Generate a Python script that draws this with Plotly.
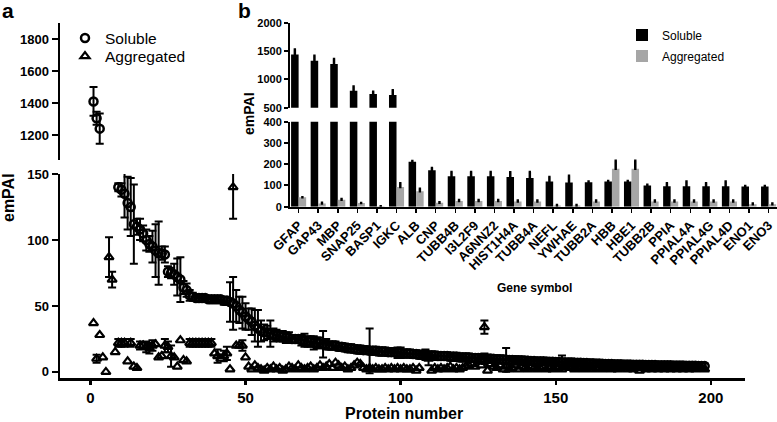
import plotly.graph_objects as go

W, H = 777, 422

# ---------------- Panel a data (protein number vs emPAI) ----------------
soluble = [
    1410, 1305, 1240, 800, 740, 725, 212, 172, 140, 138,
    135, 128, 125, 112, 110, 108, 105, 100, 97, 95,
    92, 90, 90, 89, 76, 75, 74, 72, 70, 64,
    62, 58, 57, 56, 56, 56, 56, 55, 55, 55,
    55, 55, 54, 54, 53, 52, 50, 47, 45, 42,
    40, 38, 35, 33, 31, 30, 30, 29, 28, 28,
    27, 27, 26, 26, 25, 25, 25, 24, 24, 23,
    23, 22, 22, 22, 21, 21, 20, 20, 20, 19,
    19, 18.5, 18, 18, 17.5, 17, 17, 16.5, 16.5, 16,
    16, 16, 15.5, 15.5, 15.5, 15, 15, 15, 14.5, 14.5,
    14, 14, 14, 13.5, 13.5, 13, 13, 13, 12.5, 12.5,
    12.5, 12, 12, 12, 12, 11.5, 11.5, 11.5, 11, 11,
    11, 11, 10.5, 10.5, 10.5, 10, 10, 10, 10, 9.8,
    9.6, 9.5, 9.4, 9.2, 9, 9, 8.8, 8.7, 8.6, 8.5,
    8.4, 8.3, 8.2, 8.1, 8, 8, 7.9, 7.8, 7.7, 7.6,
    7.5, 7.4, 7.3, 7.2, 7.1, 7, 7, 6.9, 6.8, 6.7,
    6.6, 6.5, 6.4, 6.3, 6.2, 6.1, 6, 6, 5.9, 5.8,
    5.8, 5.7, 5.6, 5.6, 5.5, 5.5, 5.4, 5.4, 5.3, 5.3,
    5.2, 5.2, 5.1, 5.1, 5, 5, 5, 4.9, 4.9, 4.8,
    4.8, 4.7, 4.7, 4.6, 4.6, 4.5, 4.5, 4.4,
]
soluble_err = [
    90, 40, 95, 0, 0, 0, 0, 0, 3, 5,
    18, 20, 22, 30, 6, 8, 6, 8, 6, 12,
    20, 24, 5, 6, 4, 4, 8, 14, 17, 5,
    5, 4, 3, 2, 2, 2, 2, 2, 2, 2,
    2, 2, 3, 3, 15, 20, 12, 10, 12, 10,
    8, 10, 12, 14, 8, 6, 5, 10, 5, 4,
    4, 4, 4, 4, 3, 3, 3, 4, 5, 4,
    4, 5, 4, 4, 10, 4, 3, 3, 3, 3,
    3, 3, 3, 3, 3, 3, 3, 3, 3, 17,
    3, 3, 3, 3, 3, 3, 3, 3, 4, 4,
    3, 3, 3, 3, 3, 3, 3, 3, 3, 3,
    3, 3, 3, 3, 3, 3, 3, 3, 3, 3,
    3, 3, 3, 3, 3, 3, 4, 3, 3, 3,
    3, 3, 3, 9, 3, 3, 3, 3, 3, 3,
    2, 2, 2, 2, 2, 2, 2, 2, 2, 2,
    2, 5, 2, 2, 3, 2, 2, 2, 2, 2,
    2, 2, 2, 2, 2, 2, 2, 2, 2, 2,
    2, 2, 2, 2, 2, 2, 2, 2, 2, 2,
    2, 2, 2, 2, 2, 2, 2, 2, 2, 2,
    2, 2, 2, 2, 2, 2, 2, 2,
]
aggregated = [
    37, 10, 28, 11, 0, 87, 70, 15, 22, 22,
    22, 8, 22, 4, 3, 20, 20, 19, 18, 20,
    21, 11, 12, 20, 19, 12, 11, 4, 24, 9,
    8, 22, 22, 22, 22, 22, 22, 22, 22, 14,
    12, 10, 12, 14, 2, 140, 20, 20, 20, 11,
    4, 2, 5, 3, 2, 1, 3, 2, 4, 2,
    3, 1, 2, 4, 3, 2, 5, 3, 2, 3,
    4, 2, 3, 5, 3, 4, 6, 3, 7, 5,
    3, 4, 2, 3, 5, 7, 6, 3, 2, 3,
    2, 3, 2, 2, 3, 2, 3, 2, 3, 2,
    3, 2, 2, 3, 1, 3, 12, 13, 10, 1,
    3, 2, 3, 2, 3, 4, 2, 3, 2, 3,
    4, 5, 6, 4, 8, 5, 34, 1, 6, 4,
    3, 5, 2, 4, 2, 3, 5, 2, 4, 3,
    2, 4, 3, 2, 3, 4, 2, 3, 2, 4,
    3, 2, 5, 4, 3, 2, 4, 3, 2, 3,
    4, 2, 3, 3, 2, 4, 3, 2, 3, 2,
    3, 4, 2, 3, 2, 3, 1, 3, 2, 3,
    2, 3, 2, 4, 2, 3, 2, 3, 2, 3,
    2, 3, 2, 3, 2, 4, 3, 2,
]
protein_number = list(range(1, len(soluble) + 1))

aggregated_err_at = [2, 6, 7, 9, 10, 11, 13, 16, 18, 19, 20, 24, 25, 26,
                     32, 33, 34, 35, 36, 37, 38, 39, 41, 43, 44, 46, 49,
                     108, 109, 127]
aggregated_err_val = [3, 15, 6, 3, 3, 3, 3, 3, 4, 4, 4, 5, 4, 8,
                      3, 3, 3, 3, 3, 3, 3, 3, 5, 4, 5, 24, 4,
                      4, 5, 5]

x_ticks = [0, 50, 100, 150, 200]
y_low_ticks = [0, 50, 100, 150]
y_high_ticks = [1200, 1400, 1600, 1800]

# ---------------- Panel b data (gene symbol vs emPAI) ----------------
genes = ["GFAP", "GAP43", "MBP", "SNAP25", "BASP1", "IGKC", "ALB", "CNP",
         "TUBB4B", "I3L2F9", "A6NNZ2", "HIST1H4A", "TUBB4A", "NEFL", "YWHAE",
         "TUBB2A", "HBB", "HBE1", "TUBB2B", "PPIA", "PPIAL4A", "PPIAL4G",
         "PPIAL4D", "ENO1", "ENO3"]
gene_soluble = [1440, 1330, 1270, 800, 740, 725, 212, 172, 143, 143, 143, 140,
                135, 118, 114, 115, 118, 118, 100, 96, 96, 96, 96, 95, 95]
gene_soluble_err = [85, 85, 90, 75, 40, 85, 3, 10, 20, 20, 20, 22,
                    28, 22, 32, 3, 3, 3, 3, 14, 22, 14, 22, 2, 2]
gene_aggregated = [45, 15, 33, 17, 2, 93, 73, 19, 27, 27, 27, 25,
                   25, 6, 6, 25, 178, 178, 25, 25, 25, 25, 25, 12, 12]
gene_aggregated_err = [0, 3, 3, 0, 0, 17, 12, 2, 4, 4, 4, 4,
                       4, 2, 2, 4, 38, 38, 4, 4, 4, 4, 4, 3, 3]
b_low_ticks = [0, 100, 200, 300, 400]
b_high_ticks = [500, 1000, 1500, 2000]

# ---------------- styling ----------------
FONT = "Liberation Sans, Arial, Helvetica, sans-serif"
GRAY = "#a6a6a6"


def py(p):
    return 1 - p / H


def px(p):
    return p / W


def btxt(vals):
    return ["<b>%s</b>" % v for v in vals]


fig = go.Figure()

circle_marker = dict(symbol="circle-open", size=8, color="black",
                     line=dict(color="black", width=2.5))
tri_marker = dict(symbol="triangle-up-open", size=8, color="black",
                  line=dict(color="black", width=2.2))

agg_err_x = [protein_number[a - 1] for a in aggregated_err_at]
agg_err_y = [aggregated[a - 1] for a in aggregated_err_at]

for yax in ["y", "y2"]:
    fig.add_trace(go.Scatter(x=agg_err_x, y=agg_err_y, mode="markers",
                             xaxis="x", yaxis=yax,
                             marker=dict(size=2, color="rgba(0,0,0,0)"),
                             error_y=dict(type="data", array=aggregated_err_val,
                                          color="black", thickness=2, width=4),
                             showlegend=False, hoverinfo="skip"))
    fig.add_trace(go.Scatter(x=protein_number, y=aggregated, mode="markers",
                             xaxis="x", yaxis=yax, marker=tri_marker,
                             name="Aggregated", legend="legend2",
                             showlegend=(yax == "y")))
    fig.add_trace(go.Scatter(x=protein_number, y=soluble, mode="markers",
                             xaxis="x", yaxis=yax, marker=circle_marker,
                             error_y=dict(type="data", array=soluble_err,
                                          color="black", thickness=2, width=4),
                             name="Soluble", legend="legend",
                             showlegend=(yax == "y")))

nb = len(genes)
for yax in ["y3", "y4"]:
    fig.add_trace(go.Bar(x=genes, y=gene_soluble, xaxis="x2", yaxis=yax,
                         marker=dict(color="black", line=dict(width=0)),
                         error_y=dict(type="data", symmetric=False,
                                      array=gene_soluble_err,
                                      arrayminus=[0] * nb, color="black",
                                      thickness=2.5, width=1.2),
                         name="Soluble", legend="legend3",
                         showlegend=(yax == "y3")))
    fig.add_trace(go.Bar(x=genes, y=gene_aggregated, xaxis="x2", yaxis=yax,
                         marker=dict(color=GRAY, line=dict(width=0)),
                         error_y=dict(type="data", symmetric=False,
                                      array=gene_aggregated_err,
                                      arrayminus=[0] * nb, color="black",
                                      thickness=2.5, width=1.2),
                         name="Aggregated", legend="legend4",
                         showlegend=(yax == "y3")))

common = dict(showgrid=False, zeroline=False, showline=True, linecolor="black",
              ticks="outside", tickcolor="black")

fig.update_layout(
    width=W, height=H,
    margin=dict(l=0, r=0, t=0, b=0, autoexpand=False),
    paper_bgcolor="white", plot_bgcolor="white",
    font=dict(family=FONT, color="black"),
    barmode="group", bargap=0.23, bargroupgap=0,
    xaxis=dict(domain=[px(60), px(745)], range=[-9.8, 211],
               tickvals=x_ticks, ticktext=btxt(x_ticks), anchor="y",
               linewidth=2.5, tickwidth=2.5, ticklen=4,
               tickfont=dict(size=15), **common),
    yaxis=dict(domain=[py(378), py(174)], range=[-4.6, 150],
               tickvals=y_low_ticks, ticktext=btxt(y_low_ticks), anchor="x",
               linewidth=2.5, tickwidth=2.5, ticklen=6,
               tickfont=dict(size=13), **common),
    yaxis2=dict(domain=[py(160), py(23)], range=[1044, 1900],
                tickvals=y_high_ticks, ticktext=btxt(y_high_ticks), anchor="x",
                linewidth=2.5, tickwidth=2.5, ticklen=6,
                tickfont=dict(size=13), **common),
    xaxis2=dict(domain=[px(290), 1.0], type="category",
                range=[-0.44, 24.43], anchor="y3", tickangle=-45,
                tickvals=genes, ticktext=btxt(genes),
                linewidth=2, tickwidth=1.5, ticklen=4,
                tickfont=dict(size=13), **common),
    yaxis3=dict(domain=[py(206.7), py(121.7)], range=[0, 400],
                tickvals=b_low_ticks, ticktext=btxt(b_low_ticks), anchor="x2",
                linewidth=2, tickwidth=2, ticklen=4,
                tickfont=dict(size=11), **common),
    yaxis4=dict(domain=[py(107.7), py(22.7)], range=[500, 2000],
                tickvals=b_high_ticks, ticktext=btxt(b_high_ticks), anchor="x2",
                linewidth=2, tickwidth=2, ticklen=4,
                tickfont=dict(size=11), **common),
    legend=dict(x=px(65), y=py(21.5), xanchor="left", yanchor="top",
                bgcolor="rgba(0,0,0,0)", font=dict(size=15.5)),
    legend2=dict(x=px(65), y=py(39.5), xanchor="left", yanchor="top",
                 bgcolor="rgba(0,0,0,0)", font=dict(size=15.5)),
    legend3=dict(x=px(622), y=py(20.5), xanchor="left", yanchor="top",
                 bgcolor="rgba(0,0,0,0)", font=dict(size=12)),
    legend4=dict(x=px(622), y=py(41.5), xanchor="left", yanchor="top",
                 bgcolor="rgba(0,0,0,0)", font=dict(size=12)),
    annotations=[
        dict(text="<b>a</b>", x=px(0), y=py(11), xref="paper", yref="paper",
             xanchor="left", yanchor="middle", showarrow=False,
             font=dict(size=21)),
        dict(text="<b>b</b>", x=px(244), y=py(10), xref="paper", yref="paper",
             xanchor="center", yanchor="middle", showarrow=False,
             font=dict(size=21)),
        dict(text="<b>emPAI</b>", x=px(8), y=py(198), xref="paper", yref="paper",
             xanchor="center", yanchor="middle", showarrow=False,
             textangle=-90, font=dict(size=16)),
        dict(text="<b>Protein number</b>", x=px(404), y=py(413), xref="paper",
             yref="paper", xanchor="center", yanchor="middle",
             showarrow=False, font=dict(size=16)),
        dict(text="<b>emPAI</b>", x=px(249), y=py(114), xref="paper", yref="paper",
             xanchor="center", yanchor="middle", showarrow=False,
             textangle=-90, font=dict(size=14)),
        dict(text="<b>Gene symbol</b>", x=px(534), y=py(288), xref="paper",
             yref="paper", xanchor="center", yanchor="middle",
             showarrow=False, font=dict(size=12)),
    ],
)

fig.write_html("out.html",
               config={"displayModeBar": False, "staticPlot": True},
               post_script="document.body.style.margin='0px';"
                           "document.body.style.overflow='hidden';")
